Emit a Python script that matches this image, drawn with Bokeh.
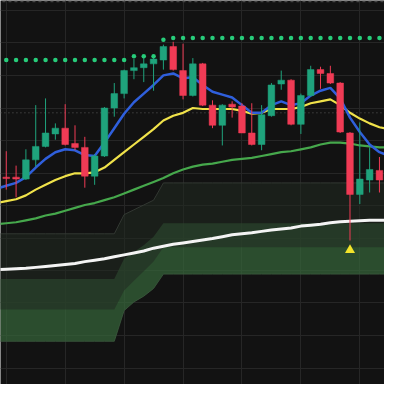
from bokeh.plotting import figure
from bokeh.models import Range1d, FixedTicker
from bokeh.embed import file_html
from bokeh.resources import INLINE

# ---- data (price units) ----
candle_idx = list(range(1, 40))
opens  = [216, 216, 214, 234, 248, 261, 267, 251, 247, 217, 238, 288, 303, 327, 330, 334, 338, 352, 327, 301,
          334, 291, 270, 292, 290, 262, 250, 280, 313, 317, 271, 301, 328, 324, 314, 262, 198, 213, 223]
highs  = [243, 228, 245, 291, 298, 272, 292, 270, 258, 240, 289, 314, 328, 339, 340, 341, 354, 357, 355, 340,
          335, 296, 292, 295, 293, 293, 291, 314, 327, 318, 303, 332, 331, 332, 315, 263, 273, 247, 237]
lows   = [203, 195, 213, 227, 247, 255, 249, 244, 205, 208, 237, 279, 298, 318, 315, 306, 328, 327, 297, 300,
          290, 267, 249, 278, 262, 249, 244, 279, 307, 270, 261, 300, 308, 313, 262, 150, 188, 200, 200]
closes = [214.5, 214, 234, 248, 262, 267, 250, 247, 217, 238, 288, 303, 327, 330, 334, 339, 352, 328, 301, 334,
          291, 270, 291, 289, 262, 250, 281, 312, 317, 271, 301, 328, 324, 314, 263, 198, 214, 224, 213]

sar_dots = [338, 338, 338, 338, 338, 338, 338, 338, 338, 338, 338, 338, 338, 342, 342, 342, 359, 361, 361, 361,
            361, 361, 361, 361, 361, 361, 361, 361, 361, 361, 361, 361, 361, 361, 361, 361, 361, 361, 361]

line_idx = list(range(0, 41))
ema_fast = [204, 207, 210, 216, 226, 235, 242, 245, 244, 239, 238, 252, 267, 282, 294, 303, 312, 322, 324, 319, 320,
            312, 305, 302, 299, 291, 283, 283, 291, 295, 291, 293, 301, 306, 309, 298, 278, 263, 250, 242, 238]
ema_mid  = [189, 191, 193, 197, 203, 208, 213, 217, 220, 220, 221, 226, 234, 242, 250, 258, 266, 275, 280, 283, 288,
            287, 287, 287, 287, 285, 282, 283, 287, 287, 287, 289, 293, 295, 297, 291, 283, 277, 272, 268, 266]
ema_slow = [167, 168, 169, 171, 173, 176, 178, 181, 184, 187, 189, 192, 195, 199, 203, 207, 211, 215, 220, 224, 227,
            229, 230, 232, 234, 235, 236, 238, 240, 242, 243, 245, 247, 250, 252, 252, 251, 249, 248, 247, 247]
ema_long = [119.5, 120, 120.5, 121, 122, 123, 124, 125, 126, 128, 129.5, 131, 133, 135, 137, 139, 142, 144, 146, 147.5,
            149, 150.5, 152, 154, 156, 157, 158, 159.5, 161, 162, 163, 165, 166, 167, 168.5, 169.5, 170, 170.5, 171, 171, 171]

band_a_top = [157, 157, 157, 157, 157, 157, 157, 157, 157, 157, 157, 157, 157, 177, 182, 187, 192, 210, 210, 210, 210,
              210, 210, 210, 210, 210, 210, 210, 210, 210, 210, 210, 210, 210, 210, 210, 210, 210, 210, 210, 210]
band_a_bot = [78, 78, 78, 78, 78, 78, 78, 78, 78, 78, 78, 78, 78, 98, 108, 118, 128, 143, 143, 143, 143,
              143, 143, 143, 143, 143, 143, 143, 143, 143, 143, 143, 143, 143, 143, 143, 143, 143, 143, 143, 143]
band_b_top = [110, 110, 110, 110, 110, 110, 110, 110, 110, 110, 110, 110, 110, 131, 138, 145, 154, 168, 168, 168, 168,
              168, 168, 168, 168, 168, 168, 168, 168, 168, 168, 168, 168, 168, 168, 168, 168, 168, 168, 168, 168]
band_b_bot = [45, 45, 45, 45, 45, 45, 45, 45, 45, 45, 45, 45, 45, 77, 86, 92, 100, 115, 115, 115, 115,
              115, 115, 115, 115, 115, 115, 115, 115, 115, 115, 115, 115, 115, 115, 115, 115, 115, 115, 115, 115]

ref_level = 283
signal_idx = [36]
signal_val = [140]

grid_x = [1, 7, 13, 19, 25, 31, 37]
grid_y = [17, 51, 85, 118.6, 152.3, 186, 220, 254, 288, 322, 356, 390]

UP = "#1fa37c"
DOWN = "#f03b55"
BG = "#121212"

p = figure(width=384, height=384, x_range=Range1d(0.4135, 39.514), y_range=Range1d(0, 400),
           output_backend="svg", toolbar_location=None, min_border=0,
           x_axis_location=None, y_axis_location=None,
           background_fill_color=BG, border_fill_color=BG, outline_line_color=None)
p.xgrid.ticker = FixedTicker(ticks=grid_x)
p.ygrid.ticker = FixedTicker(ticks=grid_y)
p.grid.grid_line_color = "#262626"
p.grid.grid_line_width = 1

# bands
p.varea(x=line_idx, y1=band_b_bot, y2=band_b_top, fill_color="#36663a", fill_alpha=0.7)
p.varea(x=line_idx, y1=band_a_bot, y2=band_a_top, fill_color="#222b22", fill_alpha=0.56)
p.line(line_idx, band_a_top, line_color="#3a403a", line_width=1, line_alpha=0.8)
p.line(line_idx, band_b_bot, line_color="#3c5a3e", line_width=1, line_alpha=0.8)

# reference levels
p.line([0, 40], [ref_level, ref_level], line_color="#5a5a5a", line_width=1, line_dash="1 3")
p.line([0, 40], [399, 399], line_color="#444444", line_width=1.5, line_dash="3 3")

# moving averages
p.line(line_idx, ema_long, line_color="#f4f4f4", line_width=3)
p.line(line_idx, ema_slow, line_color="#46a84c", line_width=2.2)
p.line(line_idx, ema_mid, line_color="#f0e24a", line_width=2.2)
p.line(line_idx, ema_fast, line_color="#2f5fdc", line_width=2.5)

# candles
colors = [UP if c >= o else DOWN for o, c in zip(opens, closes)]
tops = [max(o, c) for o, c in zip(opens, closes)]
bots = [min(o, c) for o, c in zip(opens, closes)]
p.segment(x0=candle_idx, y0=highs, x1=candle_idx, y1=lows, line_color=colors, line_width=1)
p.vbar(x=candle_idx, width=0.68, top=tops, bottom=bots, fill_color=colors, line_color=colors, line_width=0.5)

# dots
p.scatter(candle_idx, sar_dots, marker="circle", size=4.5, fill_color="#27cc7a", line_color=None)

# signal
p.scatter(signal_idx, signal_val, marker="triangle", size=10, fill_color="#f2e32a", line_color=None)

open("out.html", "w").write(file_html(p, INLINE))
